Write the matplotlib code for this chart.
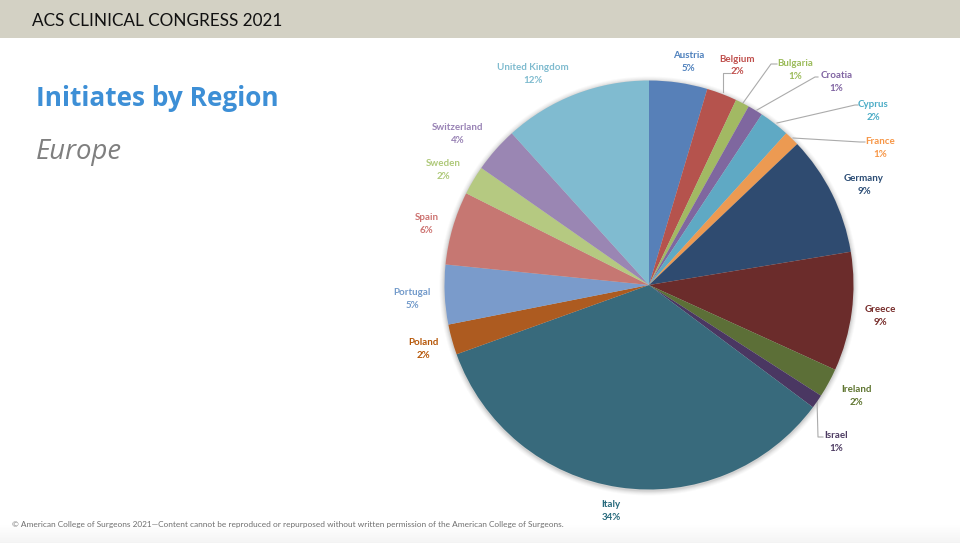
import matplotlib
matplotlib.use("Agg")
import matplotlib.pyplot as plt
from matplotlib.lines import Line2D
from matplotlib.patches import Rectangle, Circle
import numpy as np

W, H = 960, 543
regions = ["Austria", "Belgium", "Bulgaria", "Croatia", "Cyprus", "France", "Germany", "Greece",
           "Ireland", "Israel", "Italy", "Poland", "Portugal", "Spain", "Sweden", "Switzerland",
           "United Kingdom"]
shares = [4.6, 2.4, 1.1, 1.2, 2.4, 1.2, 9.5, 9.4, 2.3, 1.1, 34.3, 2.4, 4.7, 5.8, 2.3, 3.6, 11.7]
pct_labels = ["5%", "2%", "1%", "1%", "2%", "1%", "9%", "9%", "2%", "1%", "34%", "2%", "5%", "6%",
              "2%", "4%", "12%"]
colors = ["#5780B8", "#B5534D", "#A2B963", "#7F679F", "#5FA9C4", "#EC9A52", "#2F4B70", "#6B2C2B",
          "#5C6F37", "#4A3762", "#386A7C", "#AD5B20", "#7A9BCB", "#C67772", "#B5C981", "#9A86B3",
          "#80BBD0"]
label_colors = ["#4F81BD", "#C0504D", "#9BBB59", "#8064A2", "#4BACC6", "#F79646", "#2C4D75", "#772C2A",
                "#5F7530", "#4D3B62", "#276A7C", "#B65708", "#729ACA", "#CD7371", "#AFC97A", "#9983B5",
                "#7FBBCF"]
label_xy = [(688.5, 62), (737.5, 65.5), (795.5, 70), (836.5, 82), (873.5, 111), (880.5, 148), (864, 185),
            (880.5, 316), (856, 396), (836.5, 442), (611, 511), (423.5, 349), (412, 299), (426.5, 224),
            (443, 170), (458, 134), (532.5, 74)]
leaders = {
    "Belgium": [(730, 73), (723, 73), (723, 92)],
    "Bulgaria": [(777, 64), (771, 64), (743, 103)],
    "Croatia": [(818, 77), (815, 77), (757, 110)],
    "Cyprus": [(858, 105), (855, 105), (777, 123)],
    "France": [(865, 142), (860, 142), (793, 138)],
    "Israel": [(823, 437), (818, 437), (817, 400)],
}

plt.rcParams["font.family"] = ["Lato", "DejaVu Sans"]
fig = plt.figure(figsize=(W / 100, H / 100), dpi=100, facecolor="white")
bg = fig.add_axes([0, 0, 1, 1])
bg.set_xlim(0, W)
bg.set_ylim(H, 0)
bg.axis("off")

bg.add_patch(Rectangle((0, 0), W, 38, fc="#D3D1C4", ec="none"))
bg.imshow(np.linspace(1, 0.955, 20)[:, None], extent=(0, W, H, 523), cmap="gray", vmin=0, vmax=1,
          aspect="auto", zorder=0)
bg.set_xlim(0, W)
bg.set_ylim(H, 0)
bg.text(32, 20.5, "ACS CLINICAL CONGRESS 2021", fontsize=12.35, color="#111111", va="center")
bg.text(36, 98.5, "Initiates by Region", fontsize=18.95, fontweight="bold", color="#3D8FD6", va="center",
        family=["Open Sans", "DejaVu Sans"])
bg.text(36, 151.5, "Europe", fontsize=19.8, style="italic", color="#7F7F7F", va="center",
        family=["Open Sans", "DejaVu Sans"])
bg.text(12, 525, "© American College of Surgeons 2021—Content cannot be reproduced or repurposed "
        "without written permission of the American College of Surgeons.", fontsize=5.93,
        color="#6E6E6E", va="center")

cx, cy, r = 649, 285, 204.5
for grow, alpha in zip([5, 4, 3, 2, 1], [0.03, 0.04, 0.05, 0.07, 0.10]):
    bg.add_patch(Circle((cx, cy + 1), r + grow, fc="#555555", ec="none", alpha=alpha))

pie_ax = fig.add_axes([(cx - r) / W, 1 - (cy + r) / H, 2 * r / W, 2 * r / H])
pie_ax.pie(shares, colors=colors, startangle=90, counterclock=False, radius=1,
           wedgeprops={"linewidth": 0})
pie_ax.set_xlim(-1, 1)
pie_ax.set_ylim(-1, 1)
pie_ax.patch.set_alpha(0)

for name, pts in leaders.items():
    xs, ys = zip(*pts)
    bg.add_line(Line2D(xs, ys, color="#ABABAB", lw=0.8, zorder=1))

for name, pct, c, (x, y) in zip(regions, pct_labels, label_colors, label_xy):
    bg.text(x, y, f"{name}\n{pct}", color=c, fontsize=7.0, fontweight="bold", ha="center", va="center",
            linespacing=1.45)

fig.savefig("out.png", dpi=100)
